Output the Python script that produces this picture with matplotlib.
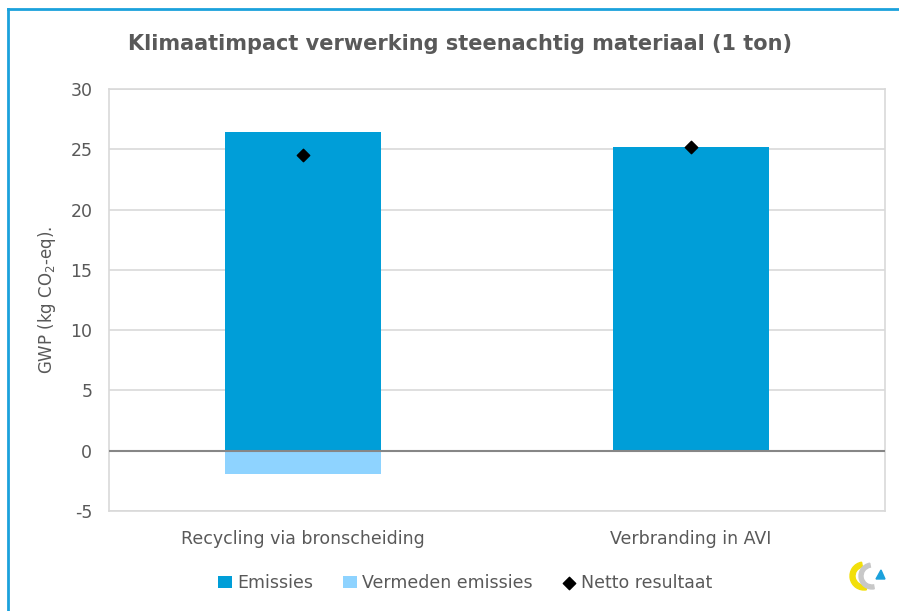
import matplotlib.pyplot as plt
import numpy as np
from matplotlib.lines import Line2D
from matplotlib.patches import Wedge, Polygon

# data
categories = ['Recycling via bronscheiding', 'Verbranding in AVI']
emissies = [26.4, 25.2]
vermeden = [-1.9, 0.0]
netto = [24.5, 25.2]

plt.rcParams['font.family'] = ['DejaVu Sans']
plt.rcParams['mathtext.default'] = 'regular'
plt.rcParams['axes.unicode_minus'] = False
text_col = '#595959'

fig = plt.figure(figsize=(8.99, 6.11), dpi=100)
ax = fig.add_axes([0.1212, 0.1637, 0.8632, 0.6906])

x = np.arange(len(categories))
b1 = ax.bar(x, emissies, width=0.4, color='#009ED8', label='Emissies', zorder=2)
b2 = ax.bar(x, vermeden, width=0.4, color='#8ED3FF', label='Vermeden emissies', zorder=2)
sc = ax.scatter(x, netto, marker='D', s=40, color='black', label='Netto resultaat', zorder=4)
ax.axhline(0, color='#868686', lw=1.5, zorder=3)

ax.set_xlim(-0.5, 1.5)
ax.set_ylim(-5, 30)
ax.set_yticks(range(-5, 31, 5))
ax.set_xticks(x)
ax.set_xticklabels(categories)
ax.grid(axis='y', color='#d9d9d9', lw=1.2, zorder=0)
ax.set_axisbelow(True)
for s in ax.spines.values():
    s.set_color('#d9d9d9')
    s.set_linewidth(1.2)
ax.tick_params(axis='both', length=0, labelsize=12.5, colors=text_col, pad=12)
ax.tick_params(axis='x', pad=14)
ax.set_ylabel('GWP (kg CO$_2$-eq).', fontsize=12, color=text_col, labelpad=9)

fig.text(0.512, 0.928, 'Klimaatimpact verwerking steenachtig materiaal (1 ton)',
         ha='center', va='center', fontsize=15, fontweight='bold', color=text_col)

ax.legend([b1, b2, sc], ['Emissies', 'Vermeden emissies', 'Netto resultaat'],
          loc='center', bbox_to_anchor=(0.459, -0.17), ncol=3, frameon=False,
          fontsize=12.5, labelcolor=text_col, handlelength=0.8, handletextpad=0.3,
          columnspacing=1.7)

# blue border at left and top
fig.add_artist(Line2D([8 / 899, 8 / 899], [0, 1 - 9 / 611], color='#1BA1DC', lw=2))
fig.add_artist(Line2D([8 / 899, 1], [1 - 9 / 611, 1 - 9 / 611], color='#1BA1DC', lw=2))

# small logo bottom right
lax = fig.add_axes([848 / 899, 1 - 596 / 611, 42 / 899, 40 / 611])
lax.set_xlim(0, 42)
lax.set_ylim(0, 40)
lax.set_aspect('equal')
lax.axis('off')
lax.add_patch(Wedge((16, 20), 14, 100, 280, width=5, color='#F2DF0A'))
lax.add_patch(Wedge((24, 20), 13, 100, 280, width=4, color='#C8C8C8'))
lax.add_patch(Polygon([[28, 17], [37, 17], [33, 26]], color='#1BA1DC'))

fig.savefig('out.png', dpi=100)
